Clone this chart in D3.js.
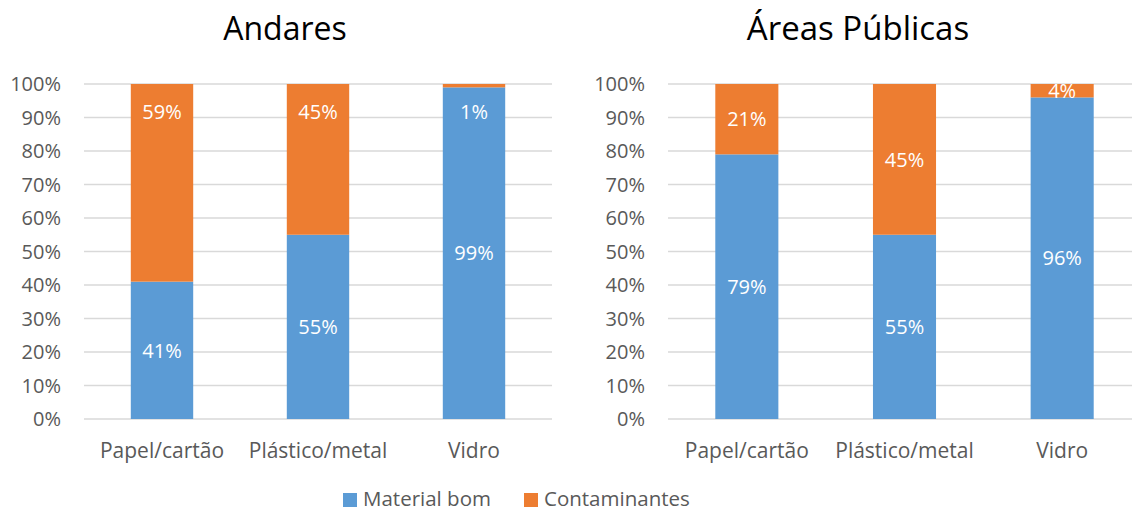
<!DOCTYPE html>
<html>
<head>
<meta charset="utf-8">
<script src="https://cdn.jsdelivr.net/npm/d3@7"></script>
<style>
html,body{margin:0;padding:0;background:#fff;}
svg{display:block;font-family:"Open Sans",sans-serif;}
</style>
</head>
<body>
<svg id="chart" width="1132" height="511"></svg>
<script>
const categories = ["Papel/cartão", "Plástico/metal", "Vidro"];
const seriesNames = ["Material bom", "Contaminantes"];
const panelTitles = ["Andares", "Áreas Públicas"];
const andaresBom = [41, 55, 99];
const andaresCont = [59, 45, 1];
const publicasBom = [79, 55, 96];
const publicasCont = [21, 45, 4];
const yTicks = [0, 10, 20, 30, 40, 50, 60, 70, 80, 90, 100];
const colors = ["#5B9BD5", "#ED7D31"];

const svg = d3.select("#chart");

// topLabel: contaminant labels placed at the inside end of the bar (left panel) or centered (right panel)
const panels = [
  {title: panelTitles[0], bom: andaresBom, cont: andaresCont, x0: 84, x1: 552, labelX: 61, titleX: 285, titleSize: 32, topLabel: true},
  {title: panelTitles[1], bom: publicasBom, cont: publicasCont, x0: 668, x1: 1141, labelX: 645, titleX: 858, titleSize: 33, topLabel: false}
];

const y = d3.scaleLinear().domain([0, 100]).range([419, 84]);

panels.forEach(p => {
  const g = svg.append("g");
  const x = d3.scaleBand().domain(categories).range([p.x0, p.x1]).paddingInner(0.6).paddingOuter(0.3);

  g.selectAll("line.grid").data(yTicks).enter().append("line")
    .attr("x1", p.x0).attr("x2", p.x1)
    .attr("y1", d => y(d)).attr("y2", d => y(d))
    .attr("stroke", "#D9D9D9").attr("stroke-width", 1.3);

  g.selectAll("text.ytick").data(yTicks).enter().append("text")
    .attr("x", p.labelX).attr("y", d => y(d)).attr("dy", "0.36em")
    .attr("text-anchor", "end").attr("font-size", 20).attr("fill", "#595959")
    .text(d => d + "%");

  const rows = categories.map((c, i) => ({cat: c, bom: p.bom[i], cont: p.cont[i]}));
  const stack = d3.stack().keys(["bom", "cont"])(rows);

  stack.forEach((layer, li) => {
    g.selectAll(null).data(layer).enter().append("rect")
      .attr("x", d => x(d.data.cat))
      .attr("width", x.bandwidth())
      .attr("y", d => y(d[1]))
      .attr("height", d => y(d[0]) - y(d[1]))
      .attr("fill", colors[li]);
  });

  stack.forEach((layer, li) => {
    g.selectAll(null).data(layer).enter().append("text")
      .attr("x", d => x(d.data.cat) + x.bandwidth() / 2)
      .attr("y", d => {
        if (li === 1 && p.topLabel) return y(d[1]) + 28;
        return (y(d[0]) + y(d[1])) / 2;
      })
      .attr("dy", "0.36em")
      .attr("text-anchor", "middle").attr("font-size", 20).attr("fill", "#fff")
      .text(d => (d[1] - d[0]) + "%");
  });

  g.selectAll("text.cat").data(categories).enter().append("text")
    .attr("x", d => x(d) + x.bandwidth() / 2).attr("y", 458)
    .attr("text-anchor", "middle").attr("font-size", 21).attr("fill", "#595959")
    .text(d => d);

  g.append("text").attr("x", p.titleX).attr("y", 40)
    .attr("text-anchor", "middle").attr("font-size", p.titleSize).attr("fill", "#000")
    .text(p.title);
});

const legendX = [343, 524];
const lg = svg.append("g");
seriesNames.forEach((s, i) => {
  lg.append("rect").attr("x", legendX[i]).attr("y", 493).attr("width", 14).attr("height", 14).attr("fill", colors[i]);
  lg.append("text").attr("x", legendX[i] + 20).attr("y", 506)
    .attr("font-size", 20.5).attr("fill", "#595959").text(s);
});
</script>
</body>
</html>
